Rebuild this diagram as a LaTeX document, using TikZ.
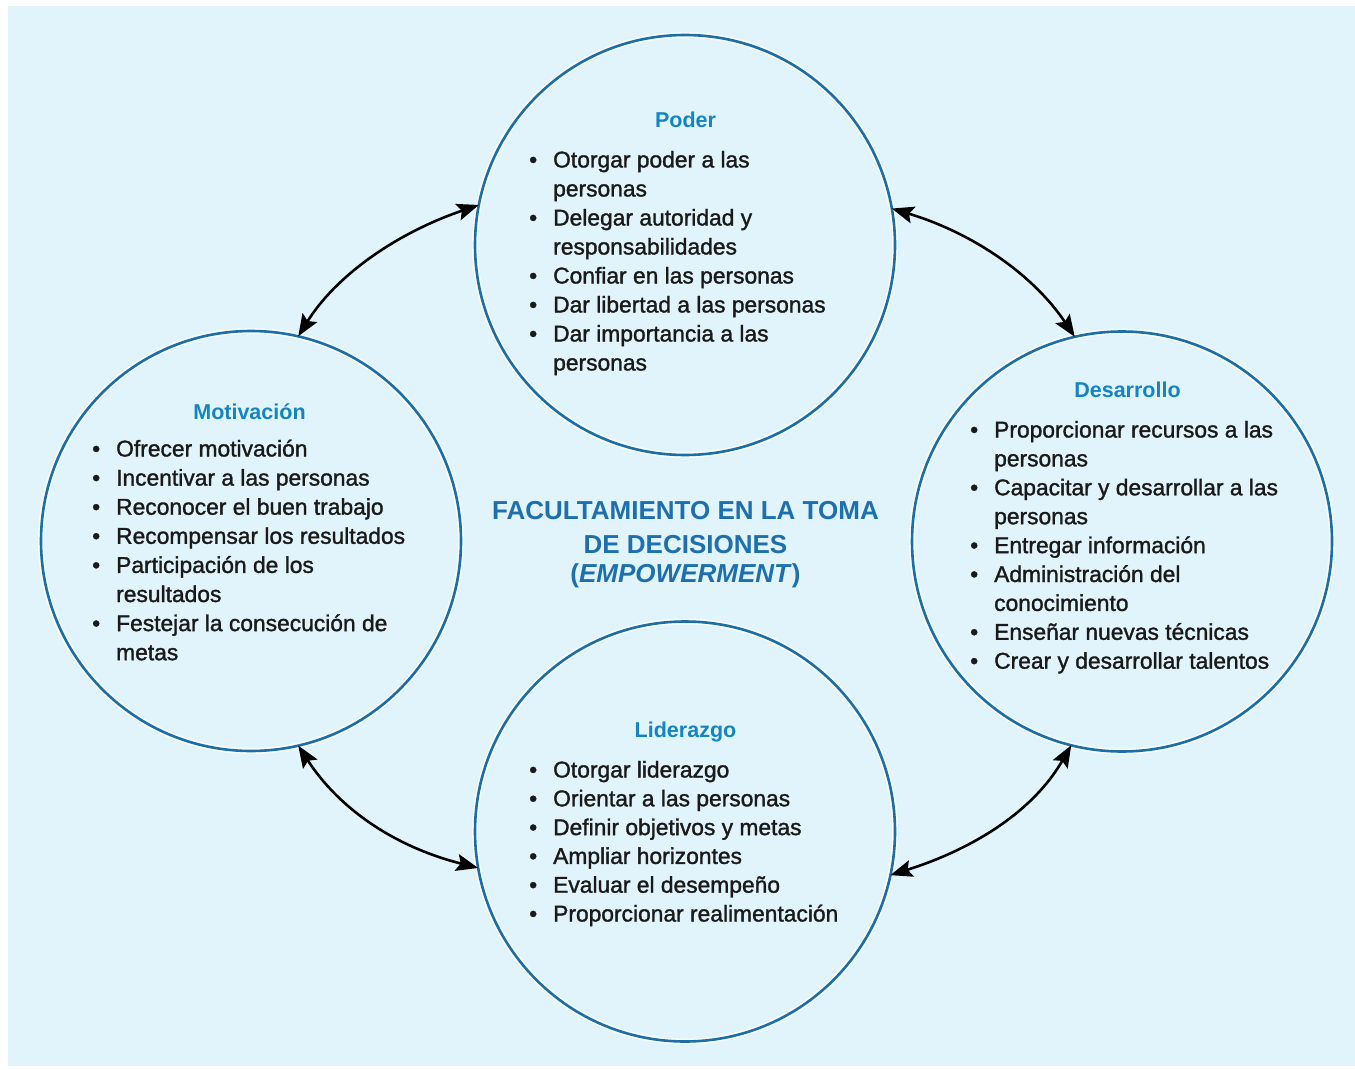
\documentclass[tikz,border=0pt]{standalone}
\usepackage{fontspec}
\setmainfont{Liberation Sans}
\newfontfamily\bodyfont[FakeBold=1.4]{Liberation Sans}
\usetikzlibrary{arrows.meta}
\definecolor{bgblue}{HTML}{E1F4FB}
\definecolor{ringblue}{HTML}{1B6EA6}
\definecolor{headblue}{HTML}{1484C4}
\definecolor{titleblue}{HTML}{1D6FAF}
\definecolor{inkblack}{HTML}{1A1A1A}
\newcommand{\bl}{\llap{•\hspace{16pt}}}
\tikzset{
  ring/.style={circle, draw=ringblue, line width=2.6pt, minimum size=420pt,
    inner sep=0pt, outer sep=0pt,
    preaction={draw=white, line width=6pt, draw opacity=0.7}},
  head/.style={font=\fontsize{21.5}{26}\selectfont\bfseries, text=headblue,
    inner sep=0pt, anchor=base},
  itemtext/.style={font=\bodyfont\fontsize{22.8}{29}\selectfont, text=inkblack,
    inner sep=0pt, anchor=base west},
  bigtitle/.style={font=\fontsize{26}{34}\selectfont\bfseries, text=titleblue,
    inner sep=0pt, anchor=base},
  link/.style={{Stealth[length=22pt,width=17pt,inset=4pt]}-{Stealth[length=22pt,width=17pt,inset=4pt]},
    line width=2.6pt, black}
}
\begin{document}
\begin{tikzpicture}[x=1pt,y=-1pt]
\useasboundingbox (0,0) rectangle (1355,1070);
\fill[white] (0,0) rectangle (1355,1070);
\fill[bgblue] (8,6) rectangle (1355,1066);

% circles
\node[ring] (pod) at (685,245) {};
\node[ring] (mot) at (251,541) {};
\node[ring] (des) at (1122,541.5) {};
\node[ring] (lid) at (685,831.5) {};

% headings
\node[head] (podh) at (685.5,128) {Poder};
\node[head] (moth) at (249.5,419) {Motivación};
\node[head] (desh) at (1127.5,397.5) {Desarrollo};
\node[head] (lidh) at (685.5,737.5) {Liderazgo};

% Poder items
\foreach \t [count=\i from 0] in {
  \bl Otorgar poder a las, personas,
  \bl Delegar autoridad y, responsabilidades,
  \bl Confiar en las personas,
  \bl Dar libertad a las personas,
  \bl Dar importancia a las, personas}
  \node[itemtext] (podt\i) at (553,167.5+29*\i) {\t};

% Motivacion items
\foreach \t [count=\i from 0] in {
  \bl Ofrecer motivación,
  \bl Incentivar a las personas,
  \bl Reconocer el buen trabajo,
  \bl Recompensar los resultados,
  \bl Participación de los, resultados,
  \bl Festejar la consecución de, metas}
  \node[itemtext] (mott\i) at (116,456.5+29.1*\i) {\t};

% Desarrollo items
\foreach \t [count=\i from 0] in {
  \bl Proporcionar recursos a las, personas,
  \bl Capacitar y desarrollar a las, personas,
  \bl Entregar información,
  \bl Administración del, conocimiento,
  \bl Enseñar nuevas técnicas,
  \bl Crear y desarrollar talentos}
  \node[itemtext] (dest\i) at (994,437.5+28.9*\i) {\t};

% Liderazgo items
\foreach \t [count=\i from 0] in {
  \bl Otorgar liderazgo,
  \bl Orientar a las personas,
  \bl Definir objetivos y metas,
  \bl Ampliar horizontes,
  \bl Evaluar el desempeño,
  \bl Proporcionar realimentación}
  \node[itemtext] (lidt\i) at (553,777.5+28.8*\i) {\t};

% central title
\node[bigtitle] (ct1) at (685.5,519.5) {FACULTAMIENTO EN LA TOMA};
\node[bigtitle] (ct2) at (685.5,553.5) {DE DECISIONES};
\node[bigtitle] (ct3) at (685.5,582) {(\textit{EMPOWERMENT})};

% connectors
\draw[link] (mot.77.4) .. controls (335,277) and (394,234) .. (pod.169.9);
\draw[link] (pod.10.2) .. controls (976,234) and (1035,277) .. (des.103.3);
\draw[link] (mot.283.3) .. controls (338,807) and (392,846) .. (lid.190.9);
\draw[link] (lid.348.5) .. controls (976,848) and (1034,810) .. (des.256.6);
\end{tikzpicture}
\end{document}
